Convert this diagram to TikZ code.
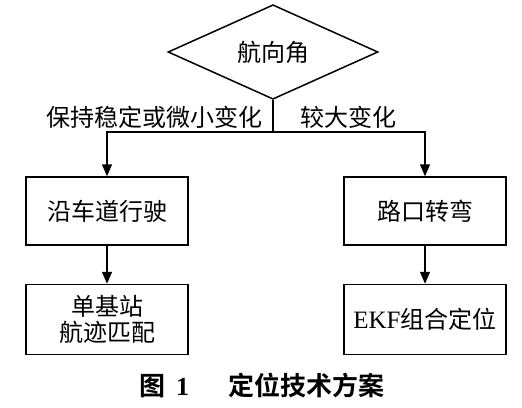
\documentclass[tikz,border=0pt]{standalone}
\usepackage{fontspec}
\setmainfont{Liberation Serif}
\newfontfamily\cjk{Noto Sans CJK SC}[BoldFont={* Bold}]
\usepackage{tikz}
\usetikzlibrary{arrows.meta,shapes.geometric,positioning}

\begin{document}
\begin{tikzpicture}[
  x=0.5pt, y=-0.5pt,
  font=\cjk\fontsize{12pt}{14pt}\selectfont,
  >={Triangle[length=6pt,width=5pt]},
  line width=0.75pt,
  decision/.style={diamond, draw, inner sep=0pt, minimum width=105pt,
                   minimum height=37.5pt},
  box/.style={rectangle, draw, align=center, minimum width=81pt,
              minimum height=34pt, inner sep=2pt},
  flow/.style={->, draw=black},
]
\useasboundingbox (0,0) rectangle (522,407);

% decision
\node[decision] (heading) at (273,52) {航向角};
\coordinate (split) at (273,132);

% left branch
\node[box] (lane) at (107,211) {沿车道行驶};
\node[box, below=19pt of lane, minimum height=35pt] (match)
  {单基站\\[-1pt]航迹匹配};

% right branch
\node[box] (turn) at (425,211) {路口转弯};
\node[box, below=19pt of turn, minimum height=35pt] (ekf)
  {{\rmfamily\fontsize{12.5pt}{14pt}\selectfont EKF}组合定位};

% branch labels
\node[anchor=east, inner sep=0pt] (small) at (263,117) {保持稳定或微小变化};
\node[anchor=west, inner sep=0pt] (large) at (300,117) {较大变化};

\draw (heading.south) -- (split);
\draw[flow] (split) -| (lane.north);
\draw[flow] (split) -| (turn.north);
\draw[flow] (lane) -- (match);
\draw[flow] (turn) -- (ekf);

% caption
\node[font=\cjk\bfseries\fontsize{13pt}{15pt}\selectfont] (caption) at (262,385)
  {图\hspace{0.4em}{\rmfamily\bfseries 1}\hspace{1.5em}定位技术方案};
\end{tikzpicture}
\end{document}
